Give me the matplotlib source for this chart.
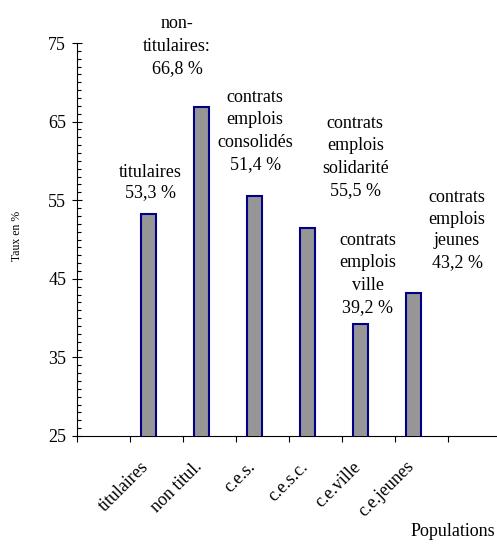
import numpy as np
import matplotlib
matplotlib.use('Agg')
from matplotlib import pyplot as plt
from matplotlib.transforms import ScaledTranslation

plt.rcParams['font.family'] = ['Liberation Serif', 'DejaVu Serif']

categories = ['titulaires', 'non titul.', 'c.e.s.', 'c.e.s.c.', 'c.e.ville', 'c.e.jeunes']
rates = [53.3, 66.8, 55.5, 51.4, 39.2, 43.2]
notes = ['titulaires\n53,3 %', 'non-\ntitulaires:\n66,8 %',
         'contrats\nemplois\nconsolidés\n51,4 %', 'contrats\nemplois\nsolidarité\n55,5 %',
         'contrats\nemplois\nville\n39,2 %', 'contrats\nemplois\njeunes\n43,2 %']

# where the text boxes sit (data coords), as in the original sheet
note_x = [1.38, 1.89, 3.36, 5.25, 5.49, 7.17]
note_y = [57.25, 74.6, 63.8, 60.5, 45.6, 51.2]
note_ls = [1.25, 1.4, 1.4, 1.4, 1.4, 1.35]

W, H = 497, 544
fig = plt.figure(figsize=(W / 100, H / 100), dpi=100)
ax = fig.add_axes([77 / W, (H - 436) / H, (W - 77) / W, (436 - 43) / H])

xs = np.arange(1, len(categories) + 1) + 0.35
ax.bar(xs, rates, width=0.27, bottom=0, color='#969696', edgecolor='#000088', linewidth=1.5, zorder=3)

ax.set_ylim(25, 75)
ax.set_xlim(0, (W - 77) / 53)
ax.set_yticks(np.arange(25, 76, 10))
ax.set_yticks(np.arange(25, 76, 1), minor=True)
ax.tick_params(axis='y', which='major', direction='inout', length=7.5, width=0.8, labelsize=13, pad=4)
ax.tick_params(axis='y', which='minor', direction='in', length=3.2, width=0.8)

ax.set_xticks(np.arange(0, 8))
ax.set_xticklabels([])
ax.set_xticks(xs, minor=True)
ax.set_xticklabels(categories, minor=True, rotation=45, ha='right', fontsize=13)
ax.tick_params(axis='x', which='major', direction='out', length=4.5, width=0.8)
ax.tick_params(axis='x', which='minor', length=0, pad=16)
shift = ScaledTranslation(0.04, 0, fig.dpi_scale_trans)
for lab in ax.get_xticklabels(minor=True):
    lab.set_transform(lab.get_transform() + shift)

for side in ['top', 'right']:
    ax.spines[side].set_visible(False)
ax.spines['left'].set_linewidth(0.8)
ax.spines['bottom'].set_linewidth(0.8)

for t, x, y, ls in zip(notes, note_x, note_y, note_ls):
    ax.text(x, y, t, ha='center', va='center', fontsize=13, linespacing=ls, clip_on=False)

fig.text(17 / W, 1 - 236 / H, 'Taux en %', rotation=90, ha='center', va='center', fontsize=8.5)
fig.text(495 / W, 4 / H, 'Populations', ha='right', va='bottom', fontsize=13)

plt.savefig('out.png', dpi=100)
